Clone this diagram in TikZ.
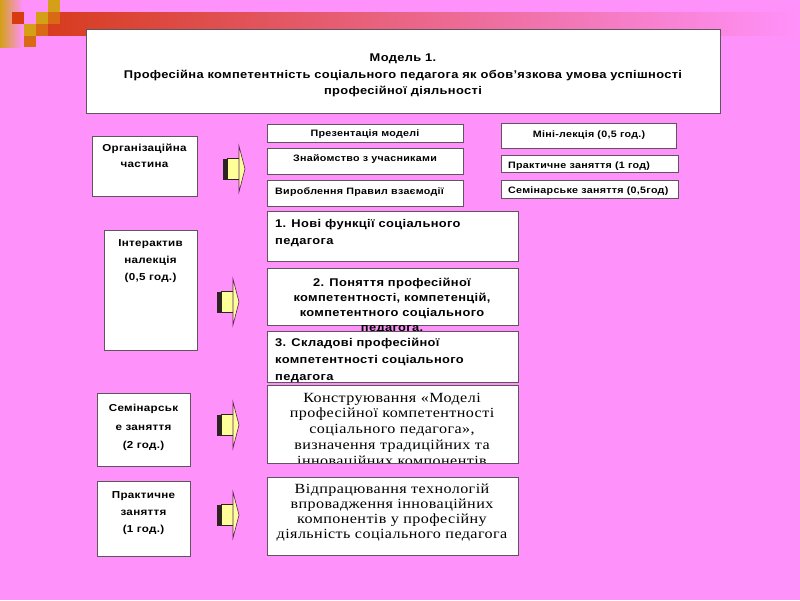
\documentclass[tikz,border=0pt]{standalone}
\usepackage{fontspec}
\setmainfont[LetterSpace=3,FakeStretch=1.15]{Liberation Sans}
\newfontfamily\serifls[LetterSpace=3,FakeStretch=1.15]{Liberation Serif}
\definecolor{bg}{RGB}{255,145,250}
\definecolor{boxline}{RGB}{95,85,95}
\definecolor{arryel}{RGB}{255,255,153}
\definecolor{arrshadow}{RGB}{45,35,35}
\definecolor{arrhead}{RGB}{90,30,90}
\definecolor{gold}{RGB}{212,160,23}
\definecolor{sqred}{RGB}{214,60,16}
\definecolor{sqorange}{RGB}{218,105,22}
\definecolor{bandred}{RGB}{215,60,30}
\tikzset{
  box/.style={draw=boxline, fill=white, line width=0.8pt, inner sep=0pt, anchor=north west},
  lefttxt/.style={font=\fontsize{10.1}{17}\selectfont\bfseries, align=center, inner sep=0pt},
  smalltxt/.style={font=\fontsize{9.3}{11}\selectfont\bfseries, inner sep=0pt},
  bigtxt/.style={font=\fontsize{11.2}{17}\selectfont\bfseries, inner sep=0pt},
  sertxt/.style={font=\serifls\fontsize{14}{15.5}\selectfont, align=center, inner sep=0pt},
  blockarrow/.pic={
    \fill[arrshadow] (0,-10.5) rectangle (4,10.5);
    \filldraw[fill=arryel, draw=arrshadow, line width=0.4pt] (4,-10.5) rectangle (16.5,10.5);
    \filldraw[fill=arryel, draw=arrhead, line width=0.6pt] (16,-23) -- (22,0) -- (16,23) -- cycle;
  }
}
\begin{document}
\begin{tikzpicture}[x=1pt,y=-1pt]
\fill[bg] (0,0) rectangle (800,600);
\useasboundingbox (0,0) rectangle (800,600);
% decoration
\shade[left color=gold, right color=bg] (0,0) rectangle (23,47);
\shade[left color=bandred, middle color=bandred!55!bg, right color=bg] (48,12) rectangle (800,35);
\fill[gold] (48,0) rectangle (60,12);
\fill[sqred] (12,12) rectangle (24,24);
\fill[gold] (36,12) rectangle (48,24);
\fill[sqorange] (48,12) rectangle (60,24);
\fill[gold] (24,24) rectangle (36,36);
\fill[sqorange] (36,24) rectangle (48,36);
\fill[sqorange] (24,36) rectangle (36,47);
% title
\node[box, minimum width=634pt, minimum height=84pt] (title) at (86,29) {};
\node[font=\fontsize{11.2}{16.5}\selectfont\bfseries, align=center, inner sep=0pt] (titlet) at (403,75.5)
  {Модель 1.\\Професійна компетентність соціального педагога як обов’язкова умова успішності\\професійної діяльності};
% left boxes
\node[box, minimum width=105pt, minimum height=60pt] (b1) at (92,136) {};
\node[lefttxt, font=\fontsize{10.1}{16}\selectfont\bfseries] (b1t) at (144.5,156) {Організаційна\\частина};
\node[box, minimum width=93pt, minimum height=120pt] (b2) at (104,230) {};
\node[lefttxt] (b2t) at (150.5,261) {Інтерактив\\налекція\\(0,5 год.)};
\node[box, minimum width=93pt, minimum height=73pt] (b3) at (97,393) {};
\node[lefttxt, font=\fontsize{10.1}{18.5}\selectfont\bfseries] (b3t) at (143.5,427.5) {Семінарськ\\е заняття\\(2 год.)};
\node[box, minimum width=93pt, minimum height=75pt] (b4) at (97,481) {};
\node[lefttxt] (b4t) at (143.5,513) {Практичне\\заняття\\(1 год.)};
% arrows
\pic (a1) at (223,169) {blockarrow};
\pic (a2) at (217,302) {blockarrow};
\pic (a3) at (217,425) {blockarrow};
\pic (a4) at (217,515) {blockarrow};
% small boxes
\node[box, minimum width=196pt, minimum height=18pt] (r1) at (267,124) {};
\node[smalltxt] (r1t) at (365,134.5) {Презентація моделі};
\node[box, minimum width=196pt, minimum height=26pt] (r2) at (267,148) {};
\node[smalltxt] (r2t) at (365,159.5) {Знайомство з учасниками};
\node[box, minimum width=196pt, minimum height=26pt] (r3) at (267,180) {};
\node[smalltxt, anchor=west] (r3t) at (275,192.5) {Вироблення Правил взаємодії};
\node[box, minimum width=175pt, minimum height=25pt] (m1) at (501,123) {};
\node[smalltxt] (m1t) at (589,135.5) {Міні-лекція (0,5 год.)};
\node[box, minimum width=177pt, minimum height=17pt] (m2) at (501,155) {};
\node[smalltxt, anchor=west] (m2t) at (508,166) {Практичне заняття (1 год)};
\node[box, minimum width=177pt, minimum height=18pt] (m3) at (501,180) {};
\node[smalltxt, anchor=west] (m3t) at (508,191.5) {Семінарське заняття (0,5год)};
% big boxes
\node[box, minimum width=251pt, minimum height=50pt] (n1) at (267,211) {};
\node[bigtxt, anchor=west, align=left] (n1t) at (275,233.5) {1. Нові функції соціального\\педагога};
\node[box, minimum width=251pt, minimum height=57pt] (n2) at (267,268) {};
\node[bigtxt, font=\fontsize{11.2}{15}\selectfont\bfseries, align=center] (n2t) at (392,306)
  {2. Поняття професійної\\компетентності, компетенцій,\\компетентного соціального\\педагога.};
\node[box, minimum width=251pt, minimum height=51pt] (n3) at (267,331) {};
\node[bigtxt, font=\fontsize{11.2}{16.7}\selectfont\bfseries, anchor=west, align=left] (n3t) at (275,360.3)
  {3. Складові професійної\\компетентності соціального\\педагога};
\node[box, minimum width=251pt, minimum height=78pt] (k1) at (267,385) {};
\begin{scope}
\clip (k1.north west) rectangle (k1.south east);
\node[sertxt, font=\serifls\fontsize{14}{15.8}\selectfont] (k1t) at (392,430.5)
  {Конструювання «Моделі\\професійної компетентності\\соціального педагога»,\\визначення традиційних та\\інноваційних компонентів};
\end{scope}
\draw[draw=boxline, line width=0.8pt] (k1.north west) rectangle (k1.south east);
\node[box, minimum width=251pt, minimum height=78pt] (k2) at (267,477) {};
\node[sertxt, font=\serifls\fontsize{14}{15}\selectfont] (k2t) at (392,512.5)
  {Відпрацювання технологій\\впровадження інноваційних\\компонентів у професійну\\діяльність соціального педагога};
\end{tikzpicture}
\end{document}
